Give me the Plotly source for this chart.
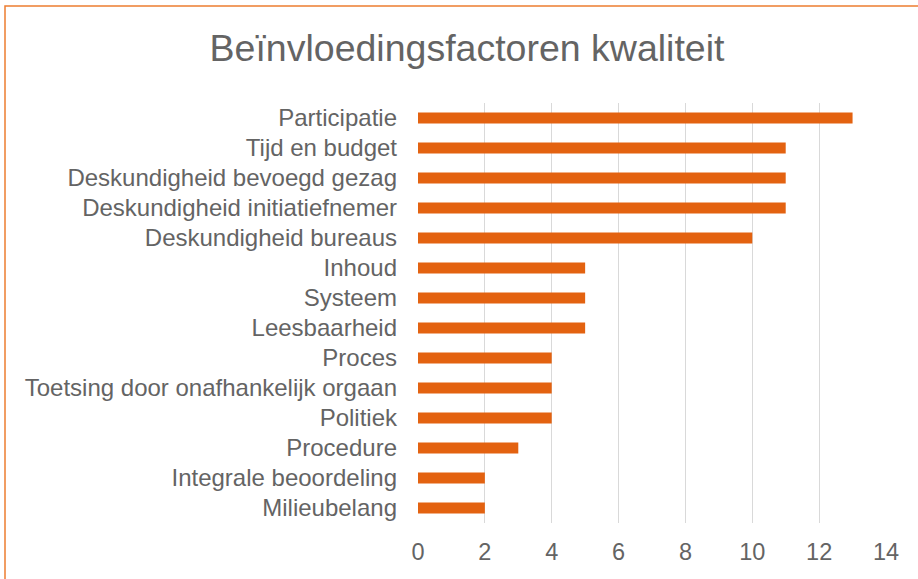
import plotly.graph_objects as go

categories = ["Participatie", "Tijd en budget", "Deskundigheid bevoegd gezag",
              "Deskundigheid initiatiefnemer", "Deskundigheid bureaus", "Inhoud",
              "Systeem", "Leesbaarheid", "Proces", "Toetsing door onafhankelijk orgaan",
              "Politiek", "Procedure", "Integrale beoordeling", "Milieubelang"]
values = [13, 11, 11, 11, 10, 5, 5, 5, 4, 4, 4, 3, 2, 2]
x_ticks = [0, 2, 4, 6, 8, 10, 12, 14]
title_text = "Beïnvloedingsfactoren kwaliteit"

W, H = 918, 579
L, R, T, B = 418, 32, 103, 56
pw, ph = W - L - R, H - T - B
TXT = "#646464"

fig = go.Figure(go.Bar(
    x=values[::-1], y=categories[::-1], orientation="h",
    marker=dict(color="#E36210", line=dict(width=0)),
    width=0.37,
))

def px_x(p):
    return (p - L) / pw

def px_y(p):
    return (H - B - p) / ph

fig.add_shape(type="rect", xref="paper", yref="paper",
              x0=px_x(5), x1=px_x(925), y0=px_y(590), y1=px_y(6),
              line=dict(color="#ED7D31", width=1.5), fillcolor="rgba(0,0,0,0)", layer="below")

fig.update_layout(
    width=W, height=H,
    margin=dict(l=L, r=R, t=T, b=B),
    paper_bgcolor="white", plot_bgcolor="white",
    font=dict(family="Liberation Sans, Arial, sans-serif", color=TXT),
    title=dict(text=title_text, x=467 / W, xref="container", xanchor="center",
               y=1 - 48 / H, yref="container", yanchor="middle",
               font=dict(size=37.5, color=TXT)),
    showlegend=False,
    bargap=0.63,
)
fig.update_xaxes(range=[0, 14], tickvals=x_ticks, showgrid=True, gridcolor="#D9D9D9",
                 gridwidth=1.3, zeroline=False, showline=False,
                 tickfont=dict(size=23.5, color=TXT), ticks="", ticklabelstandoff=12)
fig.update_yaxes(showgrid=False, zeroline=False, showline=False, ticks="",
                 tickfont=dict(size=24, color=TXT), ticklabelstandoff=20)

fig.write_html("out.html", config={"displayModeBar": False},
               post_script="document.body.style.margin='0';")
